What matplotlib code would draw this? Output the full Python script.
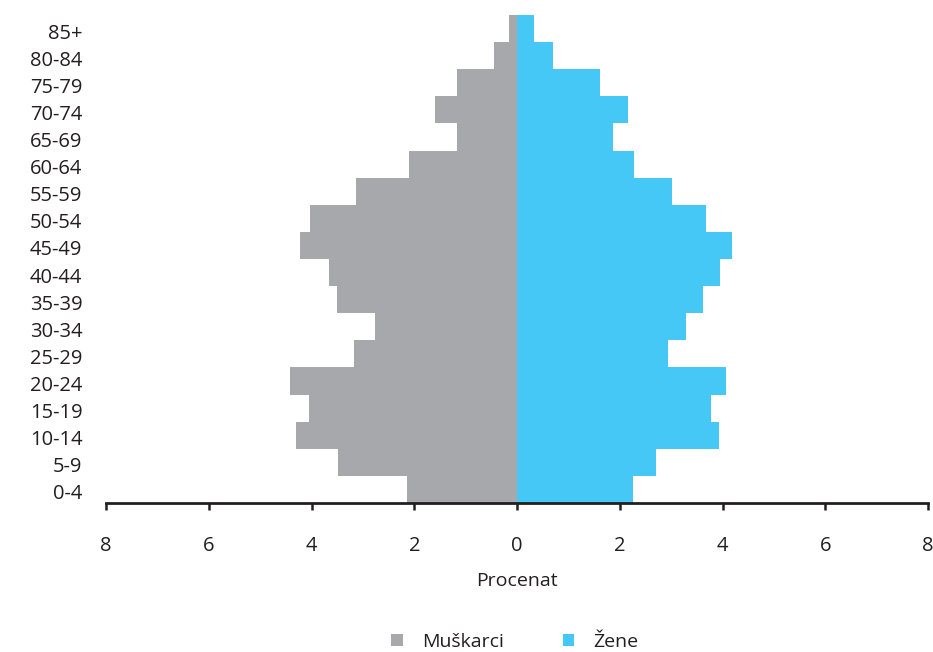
import matplotlib
matplotlib.use("Agg")
import matplotlib.pyplot as plt
import matplotlib.transforms as mtransforms
from matplotlib.patches import Patch
import numpy as np

groups = ["0-4", "5-9", "10-14", "15-19", "20-24", "25-29", "30-34", "35-39",
          "40-44", "45-49", "50-54", "55-59", "60-64", "65-69", "70-74",
          "75-79", "80-84", "85+"]
muskarci = [2.15, 3.49, 4.31, 4.04, 4.41, 3.17, 2.76, 3.50, 3.65, 4.22,
            4.02, 3.14, 2.10, 1.17, 1.59, 1.17, 0.45, 0.15]
zene = [2.25, 2.71, 3.93, 3.77, 4.07, 2.94, 3.28, 3.63, 3.96, 4.19,
        3.68, 3.02, 2.27, 1.86, 2.16, 1.61, 0.71, 0.34]

grey = "#A7A8AC"
blue = "#45C8F5"
txt = "#231F20"

plt.rcParams["font.family"] = ["Open Sans", "DejaVu Sans"]

fig = plt.figure(figsize=(9.33, 6.52), dpi=100)
ax = fig.add_axes([106/933, 1-503/652, (928-106)/933, (503-15)/652])

y = np.arange(len(groups))
ax.barh(y, -np.array(muskarci), height=1.0, color=grey, linewidth=0)
ax.barh(y, zene, height=1.0, color=blue, linewidth=0)

ax.set_xlim(-8, 8)
ax.set_ylim(-0.5, len(groups) - 0.5)
ax.set_xticks(np.arange(-8, 9, 2))
ax.set_xticklabels([str(abs(v)) for v in range(-8, 9, 2)])
ax.set_yticks(y)
ax.set_yticklabels(groups)

for s in ["top", "right", "left"]:
    ax.spines[s].set_visible(False)
ax.spines["bottom"].set_color(txt)
ax.spines["bottom"].set_linewidth(2)

ax.tick_params(axis="x", direction="out", length=5, width=1.8, color=txt,
               pad=18.5, labelsize=14.5, labelcolor=txt)
ax.tick_params(axis="y", length=0, pad=17, labelsize=14.5, labelcolor=txt)
# nudge the age labels a little lower
shift = mtransforms.ScaledTranslation(0, -2.5/100, fig.dpi_scale_trans)
for lab in ax.get_yticklabels():
    lab.set_transform(lab.get_transform() + shift)

ax.set_xlabel("Procenat", fontsize=14, color=txt, labelpad=12)

handles = [Patch(facecolor=grey, label="Muškarci"),
           Patch(facecolor=blue, label="Žene")]
fig.legend(handles=handles, loc="center", bbox_to_anchor=(0.552, 1-642/652),
           ncol=2, frameon=False, fontsize=14, handlelength=0.6, handleheight=0.6,
           handletextpad=1.0, columnspacing=3.0, labelcolor=txt)

fig.savefig("out.png", dpi=100)
